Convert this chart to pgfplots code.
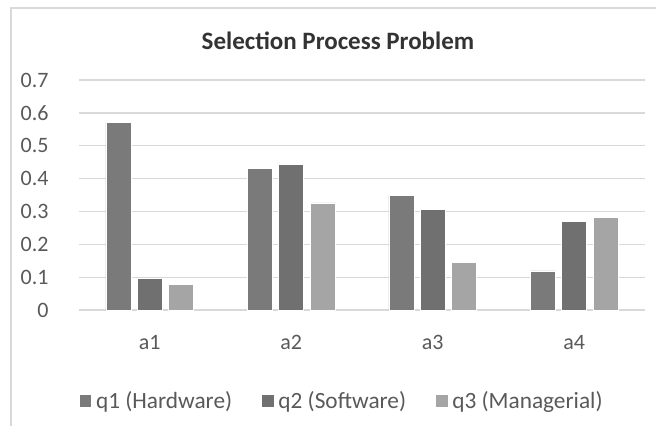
\documentclass[border=0pt]{standalone}
\usepackage{pgfplots}
\pgfplotsset{compat=1.18}
\usepackage{fontspec}
\setmainfont{Carlito}
\definecolor{cq1}{HTML}{7A7A7A}
\definecolor{cq2}{HTML}{707070}
\definecolor{cq3}{HTML}{A5A5A5}
\definecolor{gridc}{HTML}{D9D9D9}
\definecolor{txt}{HTML}{595959}
\definecolor{ttl}{HTML}{333333}
\begin{document}
\begin{tikzpicture}
\useasboundingbox (0pt,0pt) rectangle (656pt,-426pt);
\draw[gridc, line width=2pt] (10.7pt,-426pt) -- (10.7pt,-7.8pt) -- (656pt,-7.8pt);
\node[font=\fontsize{25}{30}\selectfont\bfseries, text=ttl] at (338pt,-41pt) {Selection Process Problem};
\begin{axis}[
  at={(79pt,-310pt)}, anchor=south west,
  scale only axis, width=566pt, height=230pt,
  xmin=-0.5, xmax=3.5, ymin=0, ymax=0.7,
  ytick={0,0.1,0.2,0.3,0.4,0.5,0.6,0.7},
  yticklabels={0,0.1,0.2,0.3,0.4,0.5,0.6,0.7},
  xtick={0,1,2,3}, xticklabels={a1,a2,a3,a4},
  axis line style={draw=none},
  major tick length=0pt,
  ymajorgrids, grid style={gridc, line width=1.3pt},
  ybar, bar width=25pt,
  tick label style={font=\fontsize{22}{26}\selectfont, text=txt},
  yticklabel style={xshift=-27pt},
  xticklabel style={yshift=-22pt},
  /pgf/number format/assume math mode=true,
  legend columns=3,
  legend style={at={(0.466,-0.396)}, anchor=center, draw=none, fill=none,
    font=\fontsize{23.3}{28}\selectfont, text=txt,
    nodes={inner xsep=4pt},
    /tikz/every even column/.append style={column sep=25pt}},
  legend image code/.code={\fill[#1] (0pt,-6.3pt) rectangle (12.6pt,6.3pt);},
]
\addplot[fill=cq1, draw=white, line width=0.6pt, bar shift=-31.4pt] coordinates {(0,0.572) (1,0.430) (2,0.350) (3,0.119)};
\addplot[fill=cq2, draw=white, line width=0.6pt, bar shift=0pt] coordinates {(0,0.097) (1,0.442) (2,0.307) (3,0.269)};
\addplot[fill=cq3, draw=white, line width=0.6pt, bar shift=31.4pt] coordinates {(0,0.079) (1,0.326) (2,0.146) (3,0.283)};
\legend{q1 (Hardware), q2 (Software), q3 (Managerial)}
\end{axis}
\end{tikzpicture}
\end{document}
